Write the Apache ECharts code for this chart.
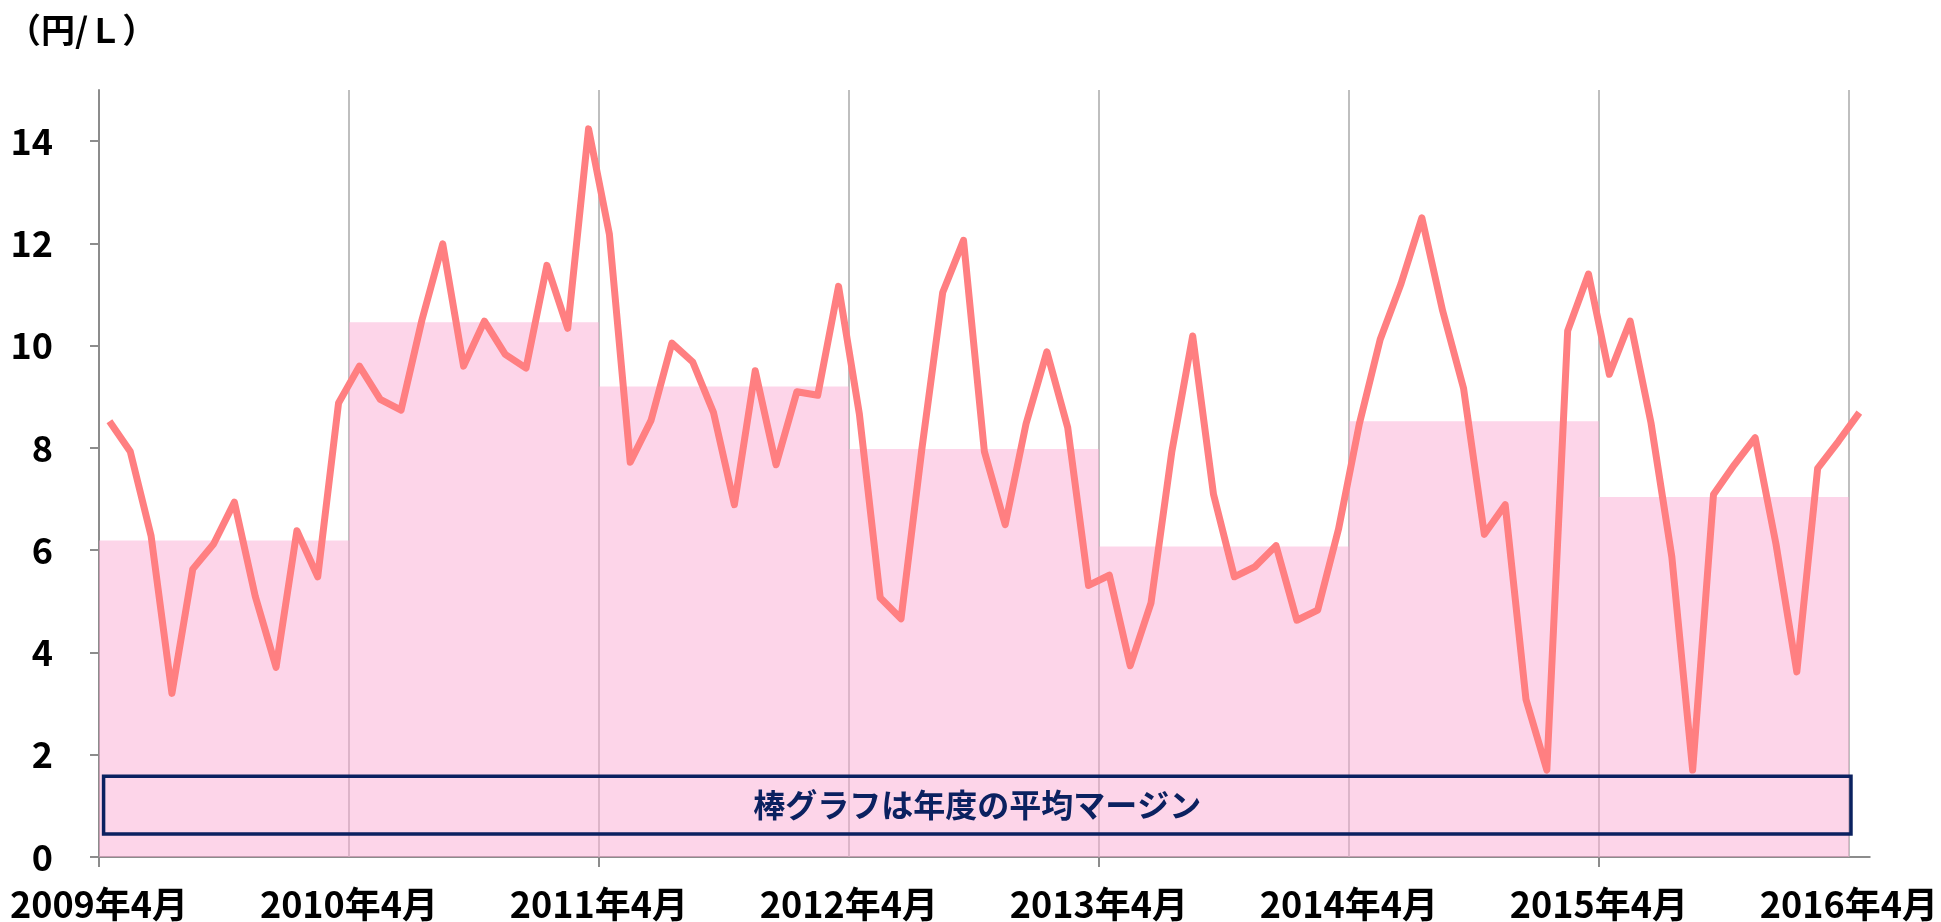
<!DOCTYPE html>
<html>
<head>
<meta charset="utf-8">
<title>月次マージン推移</title>
<script src="https://cdn.jsdelivr.net/npm/echarts@6/dist/echarts.min.js"></script>
<style>
html, body { margin: 0; padding: 0; background: #fff; }
#chart { width: 1941px; height: 922px; }
</style>
</head>
<body>
<div id="chart"></div>
<script>
// 月次マージン（円/L）2009年4月〜2016年4月
var monthValues = [
  8.52, 7.93, 6.28, 3.20, 5.63, 6.12, 6.94, 5.10, 3.71, 6.38, 5.48, 8.88,
  9.60, 8.95, 8.74, 10.50, 11.99, 9.60, 10.48, 9.83, 9.56, 11.57, 10.34, 14.24,
  12.18, 7.72, 8.54, 10.05, 9.68, 8.69, 6.89, 9.51, 7.67, 9.10, 9.03, 11.16,
  8.66, 5.07, 4.66, 7.98, 11.04, 12.06, 7.93, 6.50, 8.47, 9.88, 8.40, 5.31,
  5.51, 3.74, 4.97, 7.93, 10.19, 7.09, 5.48, 5.68, 6.09, 4.63, 4.83, 6.41,
  8.47, 10.12, 11.21, 12.50, 10.68, 9.17, 6.31, 6.89, 3.08, 1.70, 10.29, 11.40,
  9.44, 10.48, 8.49, 5.87, 1.70, 7.09, 7.67, 8.20, 6.12, 3.62, 7.60, 8.13,
  8.69
];
// 年度の平均マージン（棒グラフ）
var fyStart = [0, 12, 24, 36, 48, 60, 72];
var fyAvg = [6.19, 10.46, 9.20, 7.98, 6.07, 8.52, 7.04];
var yearLabels = ['2009年4月', '2010年4月', '2011年4月', '2012年4月', '2013年4月', '2014年4月', '2015年4月', '2016年4月'];
var yTicks = [0, 2, 4, 6, 8, 10, 12, 14];

var lineData = [];
for (var i = 0; i < monthValues.length; i++) {
  lineData.push([i + 0.5, monthValues[i]]);
}
var barData = [];
for (var j = 0; j < fyAvg.length; j++) {
  barData.push([fyStart[j], fyStart[j] + 12, fyAvg[j]]);
}
var labelPos = [];
var yearLines = [];
for (var k = 0; k < yearLabels.length; k++) {
  labelPos.push(k * 12);
  if (k > 0) yearLines.push({ xAxis: k * 12 });
}

var numFont = "'Liberation Sans Narrow', 'Noto Sans CJK JP', sans-serif";

var option = {
  animation: false,
  title: {
    text: '（円/Ｌ）',
    left: 2,
    top: 8,
    textStyle: { fontFamily: "'Noto Sans CJK JP', sans-serif", fontWeight: 'bold', fontSize: 34, color: '#000' }
  },
  grid: { left: 99, right: 70, top: 90, bottom: 65 },
  xAxis: {
    type: 'value',
    min: 0,
    max: 85,
    interval: 12,
    axisLine: { show: true, lineStyle: { color: '#8c8c8c', width: 2 } },
    axisTick: { show: true, customValues: [0, 24, 48, 72], length: 10, lineStyle: { color: '#8c8c8c', width: 2 } },
    axisLabel: {
      customValues: labelPos,
      formatter: function (v) { return yearLabels[Math.round(v / 12)] || ''; },
      fontFamily: numFont, fontWeight: 'bold', fontSize: 36, color: '#000', margin: 29
    },
    splitLine: { show: false }
  },
  yAxis: {
    type: 'value',
    min: 0,
    max: 15,
    interval: 2,
    axisLine: { show: true, lineStyle: { color: '#8c8c8c', width: 2 } },
    axisTick: { show: true, customValues: yTicks, length: 9, lineStyle: { color: '#8c8c8c', width: 2 } },
    axisLabel: { customValues: yTicks, fontFamily: numFont, fontWeight: 'bold', fontSize: 36, color: '#000', margin: 46 },
    splitLine: { show: false }
  },
  series: [
    {
      name: '年度平均',
      type: 'custom',
      data: barData,
      z: 3,
      renderItem: function (params, api) {
        var p1 = api.coord([api.value(0), api.value(2)]);
        var p2 = api.coord([api.value(1), 0]);
        return {
          type: 'rect',
          shape: { x: p1[0], y: p1[1], width: p2[0] - p1[0], height: p2[1] - p1[1] },
          style: { fill: 'rgba(251,172,212,0.5)' }
        };
      },
      markLine: {
        silent: true,
        z: 1,
        symbol: 'none',
        label: { show: false },
        lineStyle: { color: '#aaaaaa', width: 1.5, type: 'solid' },
        data: yearLines
      }
    },
    {
      name: 'マージン',
      type: 'line',
      data: lineData,
      symbol: 'none',
      z: 5,
      lineStyle: { color: '#ff7f81', width: 7, join: 'round' },
      markArea: {
        silent: true,
        z: 10,
        itemStyle: { color: 'rgba(0,0,0,0)', borderColor: '#0b2160', borderWidth: 3.5, opacity: 1 },
        label: {
          show: true, position: 'inside', formatter: '棒グラフは年度の平均マージン',
          fontFamily: "'Noto Sans CJK JP', sans-serif", fontWeight: 'bold', fontSize: 32, color: '#0b2160'
        },
        data: [[{ xAxis: 0.22, yAxis: 1.58 }, { xAxis: 84.1, yAxis: 0.45 }]]
      }
    }
  ]
};

var myChart = echarts.init(document.getElementById('chart'));
myChart.setOption(option);
</script>
</body>
</html>
